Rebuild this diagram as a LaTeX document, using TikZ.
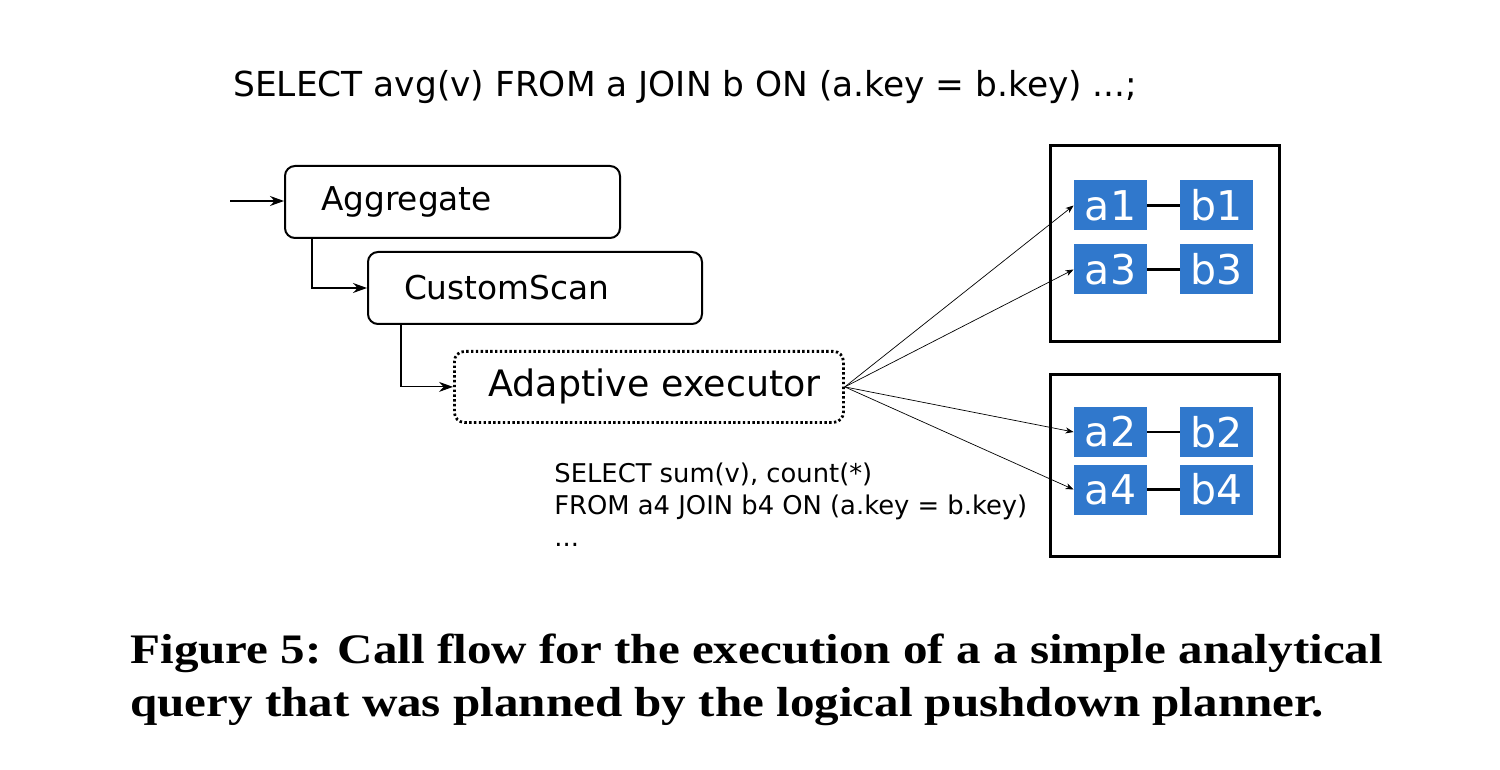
\documentclass[tikz,border=0pt]{standalone}
\usepackage{fontspec}
\setmainfont{Liberation Serif}
\newfontfamily\capfont[FakeStretch=1.168]{Liberation Serif}
\newfontfamily\vfont{DejaVu Sans}
\usetikzlibrary{arrows.meta}
\definecolor{shardblue}{RGB}{48,120,204}
\tikzset{
  opbox/.style={draw, line width=1pt, rounded corners=5pt, align=left, inner xsep=18pt, inner ysep=0pt, minimum height=36pt, font=\vfont\fontsize{16.4}{19}\selectfont},
  server/.style={draw, line width=1.5pt, inner sep=0pt},
  shard/.style={fill=shardblue, text=white, inner sep=0pt, minimum width=36.5pt, minimum height=25pt, font=\vfont\fontsize{20.5}{24}\selectfont},
  link/.style={line width=1.3pt},
  flow/.style={-{Stealth[length=7pt,width=5pt,inset=2.3pt]}, line width=0.6pt},
  fan/.style={-{Stealth[length=4pt,width=3pt,inset=1.2pt]}, line width=0.35pt},
  sql/.style={font=\vfont\fontsize{17.2}{20}\selectfont, inner sep=0pt},
  sqlsmall/.style={font=\vfont\fontsize{12.9}{16}\selectfont, inner sep=0pt, align=left},
  caption/.style={font=\capfont\bfseries\fontsize{21}{26}\selectfont, inner sep=0pt}
}
\begin{document}
\begin{tikzpicture}[x=0.5pt,y=-0.5pt]
\useasboundingbox (0,0) rectangle (1500,770);

\node[sql, anchor=base west] (q) at (233,97) {SELECT avg(v) FROM a JOIN b ON (a.key = b.key) ...;};

\node[opbox, anchor=north west, text width=131.5pt] (agg) at (284,165) {Aggregate};
\node[opbox, anchor=north west, text width=177pt, inner xsep=8.75pt, line width=1.4pt, dash pattern=on 1.2pt off 1.2pt, minimum height=35.5pt, font=\vfont\fontsize{18.2}{21}\selectfont] (ae) at (453,350) {\hspace*{8.25pt}\raisebox{-2.5pt}{Adaptive executor}};
\node[opbox, anchor=north west, text width=131pt] (cs) at (367,251) {CustomScan};

\coordinate (in) at (230,201);
\draw[flow] (in) -- (in -| agg.west);
\draw[flow] ([xshift=14pt]agg.south west) |- (cs.west);
\draw[flow] ([xshift=17pt]cs.south west) |- (ae.west);

\node[server, minimum width=114.5pt, minimum height=98pt] (s1) at (1164.5,244) {};
\node[server, minimum width=114.5pt, minimum height=90.5pt] (s2) at (1164.5,465.5) {};

\node[shard] (a1) at (1110.5,205.5) {a1};
\node[shard] (b1) at (1216.5,205.5) {b1};
\node[shard] (a3) at (1110.5,269.5) {a3};
\node[shard] (b3) at (1216.5,269.5) {b3};
\node[shard] (a2) at (1110.5,432) {a2};
\node[shard] (b2) at (1216.5,432) {b2};
\node[shard] (a4) at (1110.5,489.5) {a4};
\node[shard] (b4) at (1216.5,489.5) {b4};

\draw[link] (a1) -- (b1);
\draw[link] (a3) -- (b3);
\draw[link] (a2) -- (b2);
\draw[link] (a4) -- (b4);

\draw[fan] (ae.east) -- (a1.west);
\draw[fan] (ae.east) -- (a3.west);
\draw[fan] (ae.east) -- (a2.west);
\draw[fan] (ae.east) -- (a4.west);

\node[sqlsmall, anchor=base west] (sub) at (554,546) {SELECT sum(v), count(*)\\ FROM a4 JOIN b4 ON (a.key = b.key)\\ ...};

\node[caption, anchor=base west] (cap1) at (130,663) {Figure 5: Call flow for the execution of a a simple analytical};
\node[caption, anchor=base west] (cap2) at (130,716) {query that was planned by the logical pushdown planner.};
\end{tikzpicture}
\end{document}
